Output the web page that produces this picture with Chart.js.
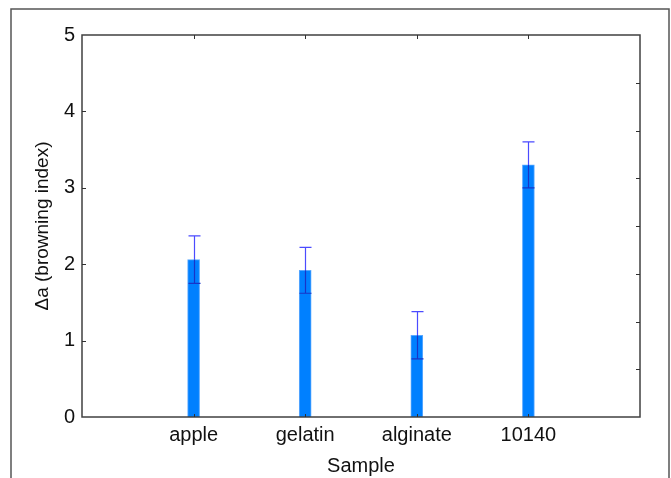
<!DOCTYPE html>
<html>
<head>
<meta charset="utf-8">
<script src="https://cdn.jsdelivr.net/npm/chart.js@4"></script>
<style>
  html, body { margin: 0; padding: 0; background: #fff; }
</style>
</head>
<body>
<canvas id="browningChart" width="671" height="478"></canvas>
<script>
// categories padded with empty slots so the x axis runs 0..5 like the original
const labels = ['', 'apple', 'gelatin', 'alginate', '10140', ''];
const means = [null, 2.06, 1.92, 1.07, 3.30, null];
const errors = [null, 0.31, 0.30, 0.31, 0.30, null];
const yTicks = [0, 1, 2, 3, 4, 5];

const FONT = "'Liberation Sans', Arial, sans-serif";

// frame, inward tick marks and error bars
const framePlugin = {
  id: 'frame',
  afterDatasetsDraw(chart) {
    const ctx = chart.ctx;
    const a = chart.chartArea;
    const x = chart.scales.x;
    const y = chart.scales.y;
    ctx.save();

    // error bars
    const meta = chart.getDatasetMeta(0);
    meta.data.forEach((bar, i) => {
      if (means[i] == null) return;
      const cx = Math.round(bar.x) + 0.5;
      const top = y.getPixelForValue(means[i] + errors[i]);
      const bot = y.getPixelForValue(means[i] - errors[i]);
      const mid = y.getPixelForValue(means[i]);
      ctx.lineWidth = 1.2;
      ctx.strokeStyle = '#4b4bff';
      ctx.beginPath();
      ctx.moveTo(cx, top); ctx.lineTo(cx, mid);
      ctx.moveTo(cx - 6, top); ctx.lineTo(cx + 6, top);
      ctx.stroke();
      ctx.strokeStyle = '#1834c8';
      ctx.beginPath();
      ctx.moveTo(cx, mid); ctx.lineTo(cx, bot);
      ctx.moveTo(cx - 6, bot); ctx.lineTo(cx + 6, bot);
      ctx.stroke();
    });

    // plot box
    ctx.strokeStyle = '#404040';
    ctx.lineWidth = 1.5;
    ctx.strokeRect(a.left, a.top, a.right - a.left, a.bottom - a.top);

    ctx.lineWidth = 1;
    ctx.strokeStyle = '#303030';
    ctx.beginPath();
    // left ticks at integers
    yTicks.slice(1, -1).forEach(v => {
      const py = Math.round(y.getPixelForValue(v)) + 0.5;
      ctx.moveTo(a.left, py); ctx.lineTo(a.left + 4, py);
    });
    // right ticks every 1/8 of the range
    for (let k = 1; k < 8; k++) {
      const py = Math.round(y.getPixelForValue(5 * k / 8)) + 0.5;
      ctx.moveTo(a.right, py); ctx.lineTo(a.right - 4, py);
    }
    // top and bottom ticks at categories
    for (let i = 1; i < labels.length - 1; i++) {
      const px = Math.round(x.getPixelForValue(i)) + 0.5;
      ctx.moveTo(px, a.top); ctx.lineTo(px, a.top + 4);
      ctx.moveTo(px, a.bottom); ctx.lineTo(px, a.bottom - 3);
    }
    ctx.stroke();

    // outer figure border
    ctx.strokeStyle = '#555';
    ctx.lineWidth = 1.5;
    ctx.beginPath();
    ctx.moveTo(11, chart.height); ctx.lineTo(11, 9);
    ctx.lineTo(669, 9); ctx.lineTo(669, chart.height);
    ctx.stroke();
    ctx.restore();
  }
};

new Chart(document.getElementById('browningChart'), {
  type: 'bar',
  data: {
    labels: labels,
    datasets: [{
      data: means,
      backgroundColor: '#0080ff',
      borderColor: '#5aa8ff',
      borderWidth: 1,
      barThickness: 12,
    }],
  },
  plugins: [framePlugin],
  options: {
    responsive: false,
    animation: false,
    layout: { padding: { top: 35, right: 31, left: 0, bottom: 0 } },
    plugins: { legend: { display: false }, tooltip: { enabled: false } },
    scales: {
      x: {
        offset: false,
        grid: { display: false, drawTicks: false },
        border: { display: false },
        ticks: {
          color: '#111',
          font: { family: FONT, size: 20 },
          padding: 6,
          maxRotation: 0,
          autoSkip: false,
        },
        title: {
          display: true,
          text: 'Sample',
          color: '#111',
          font: { family: FONT, size: 20 },
          padding: { top: 0, bottom: 0 },
        },
        afterFit(scale) { scale.height = 61; },
      },
      y: {
        min: 0,
        max: 5,
        grid: { display: false, drawTicks: false },
        border: { display: false },
        afterBuildTicks(scale) { scale.ticks = yTicks.map(v => ({ value: v })); },
        ticks: {
          color: '#111',
          font: { family: FONT, size: 20 },
          padding: 7,
        },
        title: {
          display: true,
          text: 'Δa (browning index)',
          color: '#111',
          font: { family: FONT, size: 19 },
          padding: { top: 31, bottom: 0 },
        },
        afterFit(scale) { scale.width = 82; },
      },
    },
  },
});
</script>
</body>
</html>
